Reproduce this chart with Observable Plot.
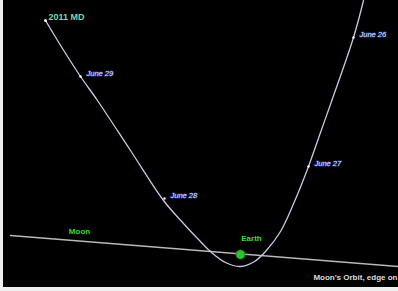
<!DOCTYPE html>
<html>
<head>
<meta charset="utf-8">
<script src="https://cdn.jsdelivr.net/npm/d3@7"></script>
<script src="https://cdn.jsdelivr.net/npm/@observablehq/plot@0.6"></script>
<style>
  html, body { margin: 0; padding: 0; background: #efefef; }
  #chart { position: absolute; left: 3px; top: 0; }
  svg { display: block; }
</style>
</head>
<body>
<div id="chart"></div>
<script>
// Positions relative to Earth (arbitrary distance units, Earth at 0,0)
const trajX = [-195, -178, -160, -143, -110, -77, -57, -42, -30, -15, 0, 14, 25, 40, 54, 68, 80, 91, 113, 123];
const trajY = [234, 206, 178, 154, 104, 54, 31, 15, 3, -8, -12, -7, 3, 23, 53, 88, 122, 153, 217, 254];

const dateNames = ["June 29", "June 28", "June 27", "June 26"];
const dateX = [-160, -76, 68, 113];
const dateY = [178, 56, 88, 217];

const moonOrbitX = [-230, 158];
const moonOrbitY = [19, -12];

const earthX = [0];
const earthY = [0];

const asteroidName = ["2011 MD"];
const moonLabel = ["Moon"];
const earthLabel = ["Earth"];
const orbitCaption = ["Moon's Orbit, edge on"];

const traj = trajX.map((x, i) => ({x, y: trajY[i]}));
const dates = dateNames.map((t, i) => ({t, x: dateX[i], y: dateY[i]}));
const moonOrbit = moonOrbitX.map((x, i) => ({x, y: moonOrbitY[i]}));

const font = "Liberation Sans, Arial, sans-serif";

const chart = Plot.plot({
  width: 395,
  height: 287,
  margin: 0,
  x: {domain: [-237, 158], axis: null},
  y: {domain: [-33, 254], axis: null},
  style: {background: "#000", fontFamily: font},
  marks: [
    Plot.line(moonOrbit, {x: "x", y: "y", stroke: "#b8b8b8", strokeWidth: 1.6}),
    Plot.line(traj, {x: "x", y: "y", curve: "catmull-rom", stroke: "#c8c8e8", strokeWidth: 1.3}),
    Plot.dot(dates, {x: "x", y: "y", r: 1.2, fill: "#ffffff"}),
    Plot.text(dates, {x: "x", y: "y", text: "t", dx: 6, dy: -3, textAnchor: "start",
      fill: "#e2e8ff", stroke: "#1c2670", strokeWidth: 1.5, fontSize: 7.5, fontStyle: "italic"}),
    Plot.dot([{x: trajX[0], y: trajY[0]}], {x: "x", y: "y", r: 1.5, fill: "#e8fff4"}),
    Plot.text(asteroidName, {x: trajX[0], y: trajY[0], text: d => d, dx: 3, dy: -3, textAnchor: "start",
      fill: "#70dcb0", fontSize: 9, fontWeight: "bold"}),
    Plot.dot(earthX.map((x, i) => ({x, y: earthY[i]})), {x: "x", y: "y", r: 4.5, fill: "#2fc02f", stroke: "#1a8a1a", strokeWidth: 1}),
    Plot.text(earthLabel, {x: earthX[0], y: earthY[0], text: d => d, dx: 11, dy: -16,
      fill: "#3fd83f", fontSize: 8, fontWeight: "bold"}),
    Plot.text(moonLabel, {x: -161, y: 23, text: d => d,
      fill: "#3fd83f", fontSize: 8, fontWeight: "bold"}),
    Plot.text(orbitCaption, {x: 158, y: -23, text: d => d, dx: -1, textAnchor: "end",
      fill: "#dcdcdc", fontSize: 8, fontWeight: "bold"})
  ]
});
document.getElementById("chart").appendChild(chart);
</script>
</body>
</html>
